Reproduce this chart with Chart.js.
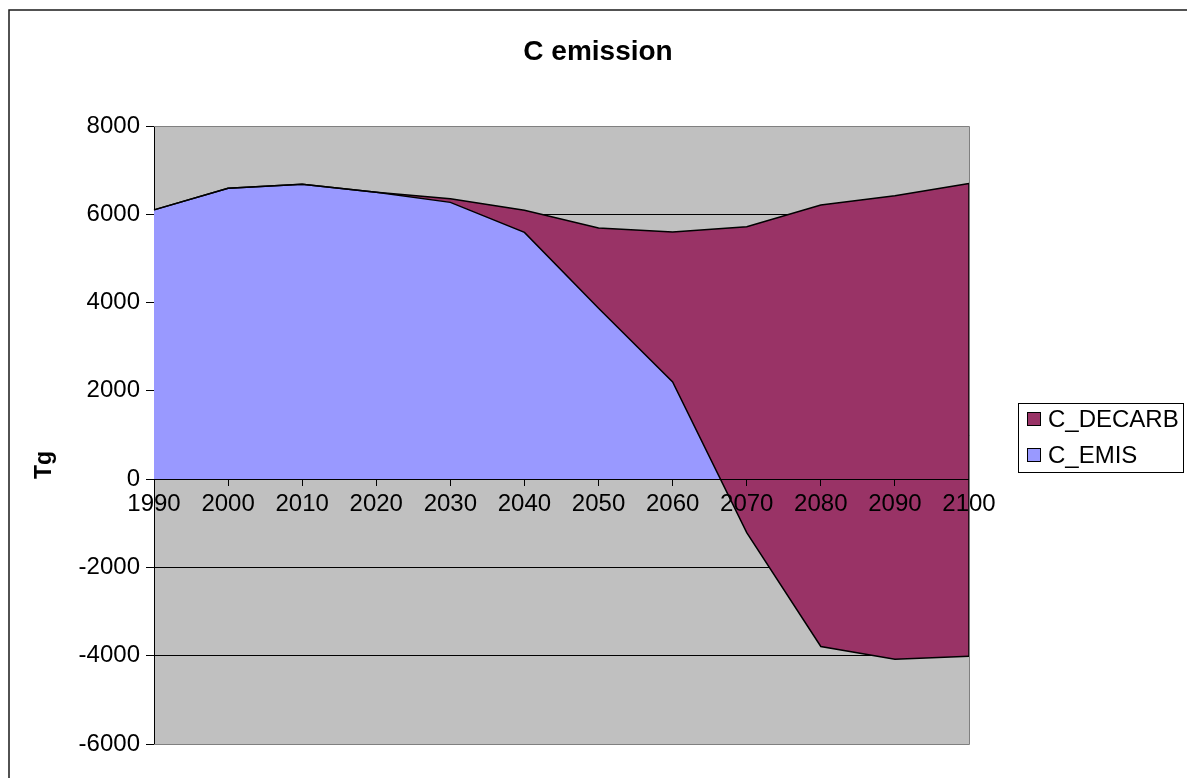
<!DOCTYPE html>
<html>
<head>
<meta charset="utf-8">
<script src="https://cdn.jsdelivr.net/npm/chart.js@4/dist/chart.umd.min.js"></script>
<style>
  html, body { margin: 0; padding: 0; background: #fff; }
  #wrap { width: 1187px; height: 778px; position: relative; }
</style>
</head>
<body>
<div id="wrap"><canvas id="c" width="1187" height="778"></canvas></div>
<script>
// ---- data ----
const years = ['1990','2000','2010','2020','2030','2040','2050','2060','2070','2080','2090','2100'];
const cEmis = [6100, 6590, 6680, 6500, 6270, 5590, 3870, 2200, -1210, -3790, -4080, -4010];
const cDecarb = [0, 0, 0, 0, 80, 500, 1820, 3400, 6930, 10000, 10500, 10710];
const yTickValues = [-6000, -4000, -2000, 0, 2000, 4000, 6000, 8000];
const chartTitle = 'C emission';
const yAxisTitle = 'Tg';

// stacked top of C_DECARB (sits on C_EMIS, as in a stacked area chart)
const cDecarbTop = cEmis.map((v, i) => v + cDecarb[i]);

const FONT = '"Liberation Sans", Arial, sans-serif';

const decor = {
  id: 'decor',
  beforeDraw(chart) {
    const { ctx, chartArea: a } = chart;
    ctx.save();
    ctx.fillStyle = '#ffffff';
    ctx.fillRect(0, 0, chart.width, chart.height);
    ctx.fillStyle = '#C0C0C0';
    ctx.fillRect(a.left, a.top, a.right - a.left, a.bottom - a.top);
    ctx.restore();
  },
  afterDatasetsDraw(chart) {
    const { ctx, chartArea: a } = chart;
    const y = chart.scales.y;
    const n = years.length - 1;
    // right-hand closing edge of the stacked area (series border)
    ctx.save();
    ctx.strokeStyle = '#000';
    ctx.lineWidth = 1.5;
    ctx.beginPath();
    ctx.moveTo(a.right, y.getPixelForValue(cDecarbTop[n]));
    ctx.lineTo(a.right, y.getPixelForValue(cEmis[n]));
    ctx.stroke();
    ctx.restore();
  },
  afterDraw(chart) {
    const { ctx, chartArea: a } = chart;
    ctx.save();
    // plot area border (gray) top / right / bottom
    ctx.strokeStyle = '#808080';
    ctx.lineWidth = 1;
    ctx.beginPath();
    ctx.moveTo(a.left, a.top + 0.5);
    ctx.lineTo(a.right + 0.5, a.top + 0.5);
    ctx.lineTo(a.right + 0.5, a.bottom + 0.5);
    ctx.lineTo(a.left, a.bottom + 0.5);
    ctx.stroke();

    // outer chart frame (continues beyond the page)
    ctx.strokeStyle = '#1a1a1a';
    ctx.lineWidth = 1.5;
    ctx.beginPath();
    ctx.moveTo(9, chart.height);
    ctx.lineTo(9, 10);
    ctx.lineTo(chart.width, 10);
    ctx.stroke();

    // title
    ctx.fillStyle = '#000';
    ctx.font = 'bold 28px ' + FONT;
    ctx.textAlign = 'center';
    ctx.textBaseline = 'middle';
    ctx.fillText(chartTitle, 598, 52);

    // y axis title
    ctx.save();
    ctx.translate(45, 465);
    ctx.rotate(-Math.PI / 2);
    ctx.font = 'bold 23px ' + FONT;
    ctx.fillText(yAxisTitle, 0, 0);
    ctx.restore();

    // legend
    ctx.strokeStyle = '#000';
    ctx.lineWidth = 1;
    ctx.strokeRect(1018.5, 403.5, 165, 69);
    ctx.font = '24px ' + FONT;
    ctx.textAlign = 'left';
    chart.data.datasets.forEach((ds, i) => {
      const yy = 412 + i * 36;
      ctx.fillStyle = ds.backgroundColor;
      ctx.fillRect(1027.5, yy + 0.5, 13, 13);
      ctx.strokeRect(1027.5, yy + 0.5, 13, 13);
      ctx.fillStyle = '#000';
      ctx.fillText(ds.label, 1048, yy + 8);
    });
    ctx.restore();
  }
};

new Chart(document.getElementById('c'), {
  type: 'line',
  data: {
    labels: years,
    datasets: [
      {
        label: 'C_DECARB',
        data: cDecarbTop,
        backgroundColor: '#993366',
        borderColor: '#000000',
        borderWidth: 1.5,
        pointRadius: 0,
        tension: 0,
        fill: '+1'
      },
      {
        label: 'C_EMIS',
        data: cEmis,
        backgroundColor: '#9999FF',
        borderColor: '#000000',
        borderWidth: 1.5,
        pointRadius: 0,
        tension: 0,
        fill: 'origin'
      }
    ]
  },
  options: {
    responsive: false,
    animation: false,
    devicePixelRatio: 1,
    layout: { padding: { left: 0, right: 218, top: 126, bottom: 34 } },
    plugins: {
      legend: { display: false },
      title: { display: false },
      tooltip: { enabled: false },
      filler: { drawTime: 'beforeDatasetsDraw' }
    },
    scales: {
      x: {
        type: 'category',
        position: { y: 0 },
        offset: false,
        grid: { z: 1, drawOnChartArea: false, drawTicks: true, tickLength: 6, color: '#000', tickColor: '#000' },
        border: { z: 1, display: true, color: '#000', width: 1 },
        ticks: {
          z: 1,
          autoSkip: false, maxRotation: 0, minRotation: 0,
          color: '#000', padding: 5,
          font: { family: FONT, size: 24 }
        }
      },
      y: {
        min: -6000,
        max: 8000,
        afterFit(scale) { scale.width = 154; },
        afterBuildTicks(scale) { scale.ticks = yTickValues.map(v => ({ value: v })); },
        grid: {
          color: (ctx) => (ctx.tick && (ctx.tick.value === 8000 || ctx.tick.value === -6000)) ? '#808080' : '#000',
          tickColor: '#000',
          tickLength: 8,
          lineWidth: 1
        },
        border: { display: true, color: '#000', width: 1 },
        ticks: {
          color: '#000',
          padding: 6,
          font: { family: FONT, size: 24 },
          callback: (v) => String(v)
        }
      }
    }
  },
  plugins: [decor]
});
</script>
</body>
</html>
